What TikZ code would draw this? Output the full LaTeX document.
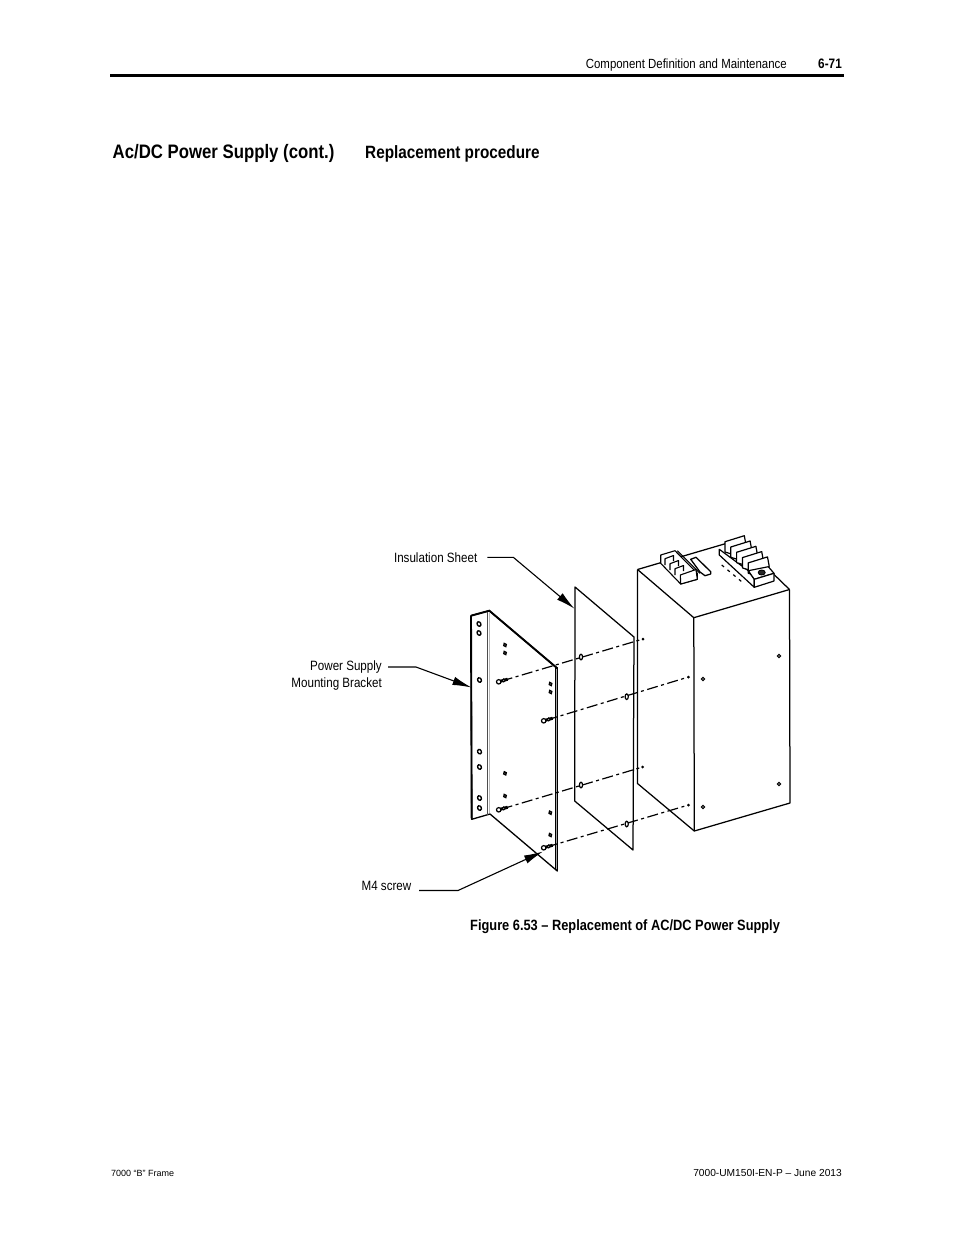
\documentclass[tikz,border=0pt]{standalone}
\usepackage{fontspec}
\setmainfont{Liberation Sans}
\newfontfamily\nar[FakeStretch=0.86]{Liberation Sans}
\usetikzlibrary{arrows.meta}
\tikzset{
 x=1pt,y=-1pt,
 part/.style={line width=1.25pt,line join=round},
 thin part/.style={line width=0.9pt,line join=round},
 hidden/.style={line width=1.2pt,dash pattern=on 11pt off 3.5pt on 3pt off 3.5pt},
 leader/.style={line width=1.1pt,line join=round,-{Latex[length=19pt,width=8.5pt]}},
 lbl/.style={inner sep=0pt,font=\nar\fontsize{13.5}{17}\selectfont,align=right},
 head/.style={inner sep=0pt,anchor=base west},
 hole/.style={line width=1.4pt,fill=white,draw=black},
}
\newcommand{\holeat}[3]{\draw[hole] (#1,#2) ellipse [x radius=#3*0.8pt,y radius=#3*1pt,rotate=25];}
\newcommand{\screwat}[2]{%
 \draw[line width=3pt] (#1-5,#2+1.3) -- (#1+6,#2-1.8);
 \draw[hole,line width=1.2pt] (#1-3,#2+0.8) circle [radius=2.2pt];
 \draw[hole,line width=1.1pt] (#1+2,#2-0.6) circle [radius=1.5pt];}
\begin{document}
\begin{tikzpicture}
\useasboundingbox (0,0) rectangle (954,1235);
\fill[white] (0,0) rectangle (954,1235);
% page furniture
\coordinate (ruleA) at (110,75); \coordinate (ruleB) at (844,75);
\draw[line width=3pt] (ruleA) -- (ruleB);
\node[inner sep=0pt,anchor=base east,font=\nar\fontsize{13.3}{15}\selectfont] (runhead) at (787,68.5) {Component Definition and Maintenance};
\node[inner sep=0pt,anchor=base east,font=\nar\bfseries\fontsize{13.7}{15}\selectfont] (pageno) at (842,68.5) {6-71};
\node[head,font=\nar\bfseries\fontsize{19.5}{22}\selectfont] (title) at (112.5,158) {Ac/DC Power Supply (cont.)};
\node[head,font=\nar\bfseries\fontsize{17.8}{20}\selectfont] (sub) at (365,158) {Replacement procedure};
\node[head,font=\nar\bfseries\fontsize{14.9}{17}\selectfont] (cap) at (470,930) {Figure 6.53 – Replacement of AC/DC Power Supply};
\node[inner sep=0pt,anchor=base west,font=\fontsize{9}{10}\selectfont] (footL) at (111,1176) {7000 “B” Frame};
\node[inner sep=0pt,anchor=base east,font=\fontsize{10.2}{11}\selectfont] (footR) at (842,1176) {7000-UM150I-EN-P – June 2013};
% supply box
\draw[part] (637.5,569.5) -- (726,543.5) (789.5,589.5) -- (773,573.5);
\draw[part] (637.5,569.5) -- (693.8,617.7) -- (789.5,589.5);
\draw[part] (637.5,569.5) -- (637.5,783.5) -- (694.3,831) -- (790,803) -- (789.5,589.5);
\draw[part] (693.8,617.7) -- (694.3,831);
\foreach \p in {(703,679),(703,807),(779,656),(779,784)} \draw[line width=1.1pt,fill=white] \p circle [radius=1.6pt];
% left terminal block
\begin{scope}[thin part]
\draw[fill=white,line width=1.1pt] (660.7,555) -- (675,550.7) -- (697.3,573.3) -- (697.3,579.3) -- (680.7,584) -- (660.7,563.3) -- cycle;
\foreach \dx/\dy in {0/0,5/5,10/10}{
 \draw[fill=white,line width=1.1pt] (665+\dx,565+\dy) -- (665+\dx,558.7+\dy) -- (673.5+\dx,555.5+\dy) -- (673.5+\dx,561+\dy);
 }
\draw[fill=white,line width=1.1pt] (680.3,575) -- (696,569.5) -- (697.3,579.3) -- (680.7,584) -- cycle;
\draw[line width=1.1pt] (677.3,550.7) -- (700,573.3);
\draw[fill=white,line width=1.3pt] (690.7,559.3) -- (696,557.3) -- (710.7,571.7) -- (710.7,574) -- (705,575.7) -- (700,572) -- cycle;
\end{scope}
% right terminal block
\begin{scope}[thin part]
\draw[fill=white,line width=1.2pt] (719.3,549.3) -- (719.3,555) -- (754.3,587.3) -- (754.3,579.3) -- (748.3,570.7) -- cycle;
\foreach \i in {0,...,4}{
 \draw[fill=white,line width=1.2pt] (725+\i*5.8,552+\i*5.3) -- (725+\i*5.8,541.7+\i*5.3) -- (744.3+\i*5.8,535.7+\i*5.3) -- (746+\i*5.8,545+\i*5.3) -- (738+\i*5.8,556+\i*5.3) -- cycle;
 }
\draw[fill=white,line width=1.2pt] (748.3,570.7) -- (768.3,566.7) -- (774,573.3) -- (754.3,579.3) -- cycle;
\draw[fill=white,line width=1.2pt] (754.3,579.3) -- (774,573.3) -- (774,581) -- (754.3,587.3) -- cycle;
\draw[fill=black!85] (761.7,572.5) ellipse [x radius=3.5pt,y radius=2.5pt];
\end{scope}
\draw[line width=1.2pt,dash pattern=on 3pt off 4.5pt] (721.7,565) -- (741.7,581.7);
% insulation sheet
\draw[part] (575,587) -- (634,637) -- (633,850) -- (574.7,801) -- cycle;
% bracket
\draw[line width=1.3pt,line join=round,fill=white] (471,615.7) -- (489.3,610.7) -- (557.3,668.3) -- (557.3,871) -- (490,814) -- (471.7,819.3) -- cycle;
\draw[line width=1.9pt] (471,615.7) -- (489.3,610.7) -- (557.3,668.3) (471,615.7) -- (471.7,819.3);
\draw[line width=1.2pt] (555.3,668) -- (555.3,869);
\draw[line width=1.8pt,gray!55] (489.5,612) -- (489.5,813);
\draw[line width=0.6pt,black!70] (487,612) -- (487,815);
\foreach \p/\r in {479/624,479/633,479.5/680,479.5/751.7,479.5/767,479.5/798,479.5/808}{\holeat{\p}{\r}{2.3}}
\foreach \p/\r in {505/645,505/653,550.5/684,550.5/692,505/773.3,505/796,550.3/812.7,550.3/835}{\holeat{\p}{\r}{1.7}}
% hardware axes
\coordinate (s1) at (501.7,681); \coordinate (e1) at (643,639);
\coordinate (s2) at (546.7,720); \coordinate (e2) at (688.5,677);
\coordinate (s3) at (501.7,809); \coordinate (e3) at (642.7,767);
\coordinate (s4) at (546.7,847); \coordinate (e4) at (688.5,805);
\foreach \i in {1,2,3,4}{
 \draw[hidden] (s\i) -- (e\i);
 \fill (e\i) circle [radius=1.5pt];}
\foreach \p in {(581,657),(626.7,696.7),(581,785),(626.7,824)} \draw[line width=1.2pt,fill=white] \p ellipse [x radius=1.6pt,y radius=2.8pt];
\screwat{501.7}{681}\screwat{546.7}{720}\screwat{501.7}{809}\screwat{546.7}{847}
% labels
\node[lbl,anchor=east] (lsheet) at (477.5,557.5) {Insulation Sheet};
\node[lbl,anchor=east] (lbrack) at (382,675) {Power Supply\\Mounting Bracket};
\node[lbl,anchor=east] (lscrew) at (411.5,886) {M4 screw};
\coordinate (tsheet) at (574.5,608.7);
\coordinate (tbrack) at (471.5,687.5);
\coordinate (tscrew) at (543,851.5);
\coordinate (esheet) at (513.3,557.3);
\coordinate (ebrack) at (416,667);
\coordinate (escrew) at (458,890.5);
\coordinate (ssheet) at (487.3,557.3);
\coordinate (sbrack) at (388,667);
\coordinate (sscrew) at (419,890.5);
\draw[leader] (ssheet) -- (esheet) -- (tsheet);
\draw[leader] (sbrack) -- (ebrack) -- (tbrack);
\draw[leader] (sscrew) -- (escrew) -- (tscrew);
\end{tikzpicture}
\end{document}
